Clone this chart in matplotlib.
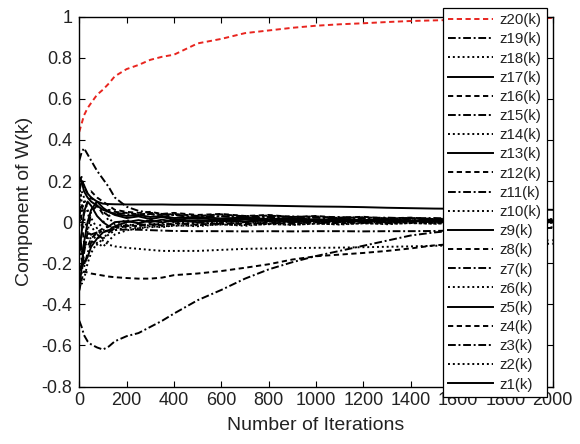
import numpy as np
import matplotlib.pyplot as plt

plt.rcParams['font.family'] = ['Liberation Sans', 'DejaVu Sans']
plt.rcParams['axes.unicode_minus'] = False

# Номера итераций, в которых сняты значения
it = [0, 10, 20, 35, 50, 75, 100, 125, 150, 200, 250, 300, 350, 400, 500,
      600, 700, 800, 900, 1000, 1100, 1200, 1300, 1400, 1500, 1600, 1700,
      1800, 1900, 2000]

z1 = [0.22, 0.2, 0.15, 0.12, 0.1, 0.08, 0.06, 0.05, 0.04, 0.03, 0.035, 0.025, 0.03, 0.02, 0.025,
      0.018, 0.022, 0.015, 0.02, 0.012, 0.016, 0.01, 0.014, 0.008, 0.012, 0.006, 0.01, 0.005, 0.008, 0.004]
z2 = [-0.02, 0.05, 0.1, 0.06, 0.02, -0.03, 0.0, 0.02, -0.01, 0.01, -0.005, 0.012, 0.0, 0.015, 0.002,
      0.013, 0.0, 0.01, 0.003, 0.012, 0.0, 0.009, 0.002, 0.01, 0.001, 0.008, 0.0, 0.006, 0.002, 0.005]
z3 = [-0.2, -0.25, -0.15, -0.05, 0.05, 0.08, 0.05, 0.03, 0.045, 0.04, 0.03, 0.04, 0.025, 0.035, 0.02,
      0.03, 0.018, 0.025, 0.015, 0.022, 0.012, 0.02, 0.01, 0.016, 0.008, 0.014, 0.006, 0.012, 0.005, 0.01]
z4 = [0.12, 0.0, -0.1, -0.12, -0.08, -0.05, -0.03, -0.02, -0.025, -0.015, -0.02, -0.01, -0.015, -0.005, -0.012,
      -0.004, -0.01, -0.002, -0.008, 0.0, -0.006, 0.0, -0.005, 0.001, -0.004, 0.0, -0.003, 0.0, -0.002, 0.0]
z5 = [-0.33, -0.22, -0.1, 0.0, 0.06, 0.1, 0.07, 0.05, 0.035, 0.02, 0.028, 0.015, 0.025, 0.012, 0.02,
      0.01, 0.018, 0.008, 0.015, 0.006, 0.012, 0.005, 0.01, 0.004, 0.008, 0.003, 0.007, 0.002, 0.006, 0.002]
z6 = [0.08, 0.15, 0.12, 0.05, -0.02, -0.06, -0.04, -0.02, -0.03, -0.01, -0.02, -0.005, -0.015, 0.0, -0.01,
      0.002, -0.008, 0.003, -0.006, 0.004, -0.004, 0.005, -0.003, 0.005, -0.002, 0.004, -0.001, 0.004, 0.0, 0.003]
z7 = [-0.1, -0.18, -0.22, -0.15, -0.1, -0.06, -0.08, -0.05, -0.03, -0.02, -0.008, -0.018, -0.005, -0.012, -0.002,
      -0.01, 0.0, -0.008, 0.002, -0.006, 0.002, -0.004, 0.003, -0.003, 0.003, -0.002, 0.002, -0.001, 0.002, 0.0]
z8 = [0.03, 0.08, 0.04, 0.1, 0.12, 0.08, 0.04, 0.06, 0.05, 0.045, 0.038, 0.042, 0.035, 0.04, 0.03,
      0.038, 0.028, 0.032, 0.025, 0.028, 0.02, 0.024, 0.018, 0.02, 0.015, 0.018, 0.012, 0.015, 0.01, 0.012]
z9 = [-0.15, -0.05, 0.05, 0.1, 0.08, 0.03, 0.0, -0.02, 0.0, 0.005, -0.005, 0.008, -0.002, 0.01, 0.0,
      0.008, 0.002, 0.01, 0.0, 0.006, 0.002, 0.008, 0.0, 0.005, 0.002, 0.006, 0.001, 0.004, 0.002, 0.004]
z10 = [0.18, 0.1, 0.02, -0.04, -0.09, -0.11, -0.08, -0.06, -0.04, -0.025, -0.03, -0.02, -0.025, -0.015, -0.02,
       -0.01, -0.018, -0.008, -0.014, -0.006, -0.012, -0.005, -0.01, -0.004, -0.008, -0.003, -0.006, -0.002, -0.005, -0.002]
z11 = [-0.1, -0.15, -0.12, -0.08, -0.06, -0.05, -0.045, -0.04, -0.038, -0.036, -0.037, -0.039, -0.041, -0.043, -0.044,
       -0.044, -0.045, -0.044, -0.045, -0.044, -0.044, -0.045, -0.044, -0.044, -0.043, -0.04, -0.036, -0.032, -0.03, -0.028]
z12 = [-0.33, -0.28, -0.24, -0.245, -0.25, -0.255, -0.26, -0.265, -0.268, -0.272, -0.275, -0.275, -0.27, -0.258, -0.25,
       -0.238, -0.222, -0.205, -0.182, -0.166, -0.158, -0.15, -0.14, -0.128, -0.113, -0.105, -0.1, -0.095, -0.09, -0.088]
z13 = [-0.06, -0.12, -0.2, -0.17, -0.12, -0.08, -0.05, -0.04, -0.02, 0.0, 0.01, 0.0, 0.012, 0.002, 0.01,
       0.004, 0.012, 0.005, 0.01, 0.006, 0.01, 0.004, 0.008, 0.005, 0.008, 0.004, 0.007, 0.004, 0.006, 0.003]
z14 = [0.05, 0.0, -0.03, -0.05, -0.06, -0.07, -0.09, -0.11, -0.118, -0.125, -0.13, -0.135, -0.14, -0.14, -0.14,
       -0.135, -0.13, -0.128, -0.126, -0.125, -0.124, -0.122, -0.12, -0.118, -0.115, -0.113, -0.11, -0.108, -0.106, -0.105]
z15 = [-0.48, -0.51, -0.55, -0.58, -0.595, -0.61, -0.62, -0.605, -0.58, -0.555, -0.54, -0.51, -0.48, -0.445, -0.38,
       -0.33, -0.275, -0.23, -0.195, -0.165, -0.14, -0.115, -0.09, -0.065, -0.05, -0.04, -0.035, -0.03, -0.028, -0.025]
z16 = [0.2, 0.22, 0.17, 0.14, 0.15, 0.12, 0.1, 0.08, 0.06, 0.05, 0.045, 0.05, 0.04, 0.045, 0.035,
       0.04, 0.03, 0.035, 0.025, 0.03, 0.022, 0.026, 0.018, 0.022, 0.015, 0.018, 0.012, 0.015, 0.01, 0.012]
z17 = [0.15, 0.2, 0.18, 0.14, 0.12, 0.1, 0.09, 0.088, 0.087, 0.086, 0.086, 0.086, 0.086, 0.085, 0.085,
       0.084, 0.082, 0.08, 0.078, 0.076, 0.075, 0.073, 0.07, 0.068, 0.066, 0.065, 0.064, 0.063, 0.062, 0.06]
z18 = [-0.25, -0.3, -0.28, -0.2, -0.15, -0.1, -0.12, -0.09, -0.06, -0.04, -0.03, -0.025, -0.02, -0.018, -0.015,
       -0.012, -0.014, -0.01, -0.012, -0.008, -0.01, -0.006, -0.008, -0.005, -0.007, -0.004, -0.006, -0.003, -0.005, -0.003]
z19 = [0.30, 0.34, 0.36, 0.33, 0.30, 0.25, 0.21, 0.17, 0.12, 0.075, 0.055, 0.045, 0.04, 0.035, 0.03,
       0.028, 0.03, 0.025, 0.028, 0.022, 0.025, 0.02, 0.022, 0.018, 0.02, 0.016, 0.018, 0.015, 0.016, 0.014]
z20 = [0.44, 0.48, 0.52, 0.555, 0.58, 0.62, 0.645, 0.675, 0.71, 0.745, 0.765, 0.79, 0.805, 0.815, 0.87,
       0.892, 0.92, 0.933, 0.946, 0.956, 0.963, 0.968, 0.974, 0.979, 0.982, 0.985, 0.988, 0.99, 0.992, 0.994]

zList = [z1, z2, z3, z4, z5, z6, z7, z8, z9, z10,
         z11, z12, z13, z14, z15, z16, z17, z18, z19, z20]

# вид линий: сплошная, точки, штрих-пунктир, штрихи
sgList = ['-', (0, (1, 1.5)), (0, (4, 1.4, 1, 1.4)), (0, (2.7, 1.8))]

fig = plt.figure(figsize=(5.8, 4.44), dpi=100)
ax = fig.add_axes([0.1367, 0.1295, 0.8162, 0.8329])

for k in range(len(zList)):
    sg = sgList[k % 4]
    col = 'k'
    if k == 19:
        col = '#e8251f'
    ax.plot(it, zList[k], linestyle=sg, color=col, lw=1.4, label='z' + str(k + 1) + '(k)')

ax.set_xlim(0, 2000)
ax.set_ylim(-0.8, 1)
ax.set_xticks(np.arange(0, 2001, 200))
yt = [-0.8, -0.6, -0.4, -0.2, 0, 0.2, 0.4, 0.6, 0.8, 1]
ax.set_yticks(yt)
ax.set_yticklabels(['%g' % v for v in yt])
ax.tick_params(direction='in', top=True, right=True, length=4, width=0.8,
               labelsize=13, labelcolor='#222222')
ax.tick_params(axis='y', pad=5)
ax.tick_params(axis='x', pad=4)
for s in ax.spines.values():
    s.set_linewidth(1.0)

ax.set_xlabel('Number of Iterations', fontsize=14, labelpad=6, color='#222222')
ax.set_ylabel('Component of W(k)', fontsize=14, labelpad=6, color='#222222')

h, l = ax.get_legend_handles_labels()
leg = ax.legend(h[::-1], l[::-1], loc='upper left', bbox_to_anchor=(443 / 580, 1 - 8 / 444),
                bbox_transform=fig.transFigure, borderaxespad=0, fontsize=10.8,
                labelspacing=0.345, handlelength=3.0, handletextpad=0.4,
                borderpad=0.35, fancybox=False, framealpha=1)
leg.get_frame().set_edgecolor('k')
leg.get_frame().set_linewidth(0.9)
for t in leg.get_texts():
    t.set_color('#222222')

plt.savefig('out.png')
